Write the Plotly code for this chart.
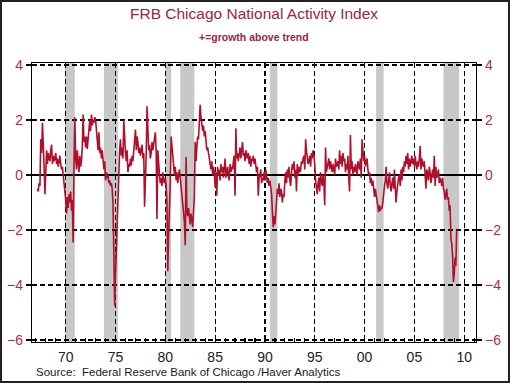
import pandas as pd
import plotly.graph_objects as go

# Monthly CFNAI values (Mar 1967 - Apr 2009)
cfnai_1960s = [
    -0.5, -0.6, -0.3, -0.4, 1.3, 0.8, 1.9, 0.6, 0.3, -0.7,            # 1967 Mar-Dec
    0.5, 0.9, 0.4, 0.8, 0.6, 0.5, 0.9, 1.1, 0.4, 0.7, 0.5, 0.6,        # 1968
    0.8, 0.4, 0.6, 0.3, 0.5, 0.7, 0.4, 0.2, 0.3, -0.1, -0.4, -0.6,     # 1969
]
cfnai_1970s = [
    -0.9, -1.4, -0.8, -1.2, -0.7, -1.0, -0.6, -1.3, -0.9, -2.45, 0.4, 2.1,   # 1970
    0.6, 0.2, 0.9, 0.4, 0.1, 0.7, 0.3, 0.5, 1.0, 2.2, 1.2, 1.4,             # 1971
    1.0, 1.4, 0.95, 1.3, 1.9, 2.0, 1.6, 2.2, 1.8, 2.0, 1.9, 2.1,            # 1972
    2.0, 1.5, 1.3, 0.9, 1.55, 0.8, 1.0, 0.6, 0.9, 0.4, 0.2, 0.5,            # 1973
    -0.2, 0.1, -0.1, 0.0, -0.3, -0.2, -0.4, -0.3, -0.5, -1.0, -2.9, -4.75,  # 1974
    -3.6, -2.6, -1.3, -0.4, 0.5, 0.9, 1.3, 0.7, 1.0, 0.6, 2.0, 1.1,         # 1975
    0.8, 0.5, 0.9, 0.1, 0.4, 0.3, 0.6, 0.35, 0.7, 0.5, 1.0, 1.3,            # 1976
    1.65, 0.9, 1.4, 1.2, 0.8, 1.0, 0.7, 0.9, 1.1, 0.6, 0.8, -1.15,          # 1977
    -0.2, 0.8, 2.5, 1.3, 0.9, 1.1, 0.6, 0.8, 1.2, 0.9, 1.1, 1.3,            # 1978
    1.55, 0.8, -1.6, 0.9, 0.2, 0.0, -0.3, -0.1, -0.4, 0.1, -0.2, -0.3,      # 1979
]
cfnai_1980s = [
    -0.1, -0.4, -1.0, -3.5, -2.1, -1.2, -0.3, 1.4, 1.0, 0.6, 0.2, 0.0,      # 1980
    0.3, -0.2, 0.1, -0.3, 0.0, 0.2, -0.1, -0.4, -0.7, -1.0, -1.4, -1.7,     # 1981
    -2.55, 0.65, -1.3, -1.5, -1.2, -1.6, -1.8, -1.4, -1.7, -1.9, -1.3, -0.8,  # 1982
    1.2, 0.5, 1.0, 1.4, 1.3, 1.8, 2.55, 2.1, 1.9, 1.6, 1.8, 1.4,            # 1983
    1.6, 1.2, 0.9, 1.0, 0.7, 0.6, 0.4, 0.2, 0.5, 0.0, 0.3, 0.1,             # 1984
    -0.45, 0.1, -0.75, 0.3, 0.0, 0.2, -0.2, 0.4, 0.1, 0.3, -0.1, 0.5,       # 1985
    0.6, -0.1, 0.2, 0.3, 0.0, -0.2, 0.4, 0.1, 0.3, 0.2, 0.5, 0.7,           # 1986
    -0.75, 1.7, 0.6, 0.8, 0.5, 0.7, 1.0, 0.6, 0.9, 1.2, 0.7, 0.8,           # 1987
    0.5, 0.9, 0.7, 0.6, 0.8, 0.4, 0.7, 0.3, 0.6, 0.5, 0.7, 0.4,             # 1988
    0.6, 0.2, 0.1, 0.3, -0.75, -0.1, 0.0, 0.2, -0.3, -0.1, -0.2, 0.1,       # 1989
]
cfnai_1990s = [
    -0.2, 0.2, -0.1, -0.3, -0.1, -0.4, -0.2, -0.4, -0.7, -1.3, -1.9, -1.5,  # 1990
    -1.8, -1.4, -0.9, -0.5, -0.7, -0.3, -0.8, -0.5, -0.6, -1.0, -0.7, -0.8, # 1991
    -0.2, 0.1, -0.3, 0.2, -0.1, 0.3, -0.2, -0.4, 0.1, 0.4, 0.2, 0.5,        # 1992
    -0.1, 0.2, -0.6, 0.4, 0.0, 0.3, 0.1, 0.2, 0.5, 0.4, 0.6, 0.7,           # 1993
    0.2, 1.3, 0.9, 0.6, 0.4, 0.5, 0.7, 0.3, 0.8, 0.6, 0.9, 0.7,             # 1994
    0.4, -0.2, -0.5, -0.7, -0.3, -0.1, -0.6, 0.1, -0.2, -0.4, 0.0, -0.3,    # 1995
    -1.1, 1.0, 0.1, 0.3, 0.4, 0.6, 0.2, 0.5, 0.3, 0.1, 0.4, 0.2,            # 1996
    0.0, 0.6, 0.3, 0.4, 0.5, 0.2, 0.9, 0.4, 0.7, 0.3, 0.8, 0.5,             # 1997
    0.6, 0.1, 0.4, 0.2, 0.7, -0.1, -0.6, 1.45, 0.2, 0.5, 0.0, 0.3,          # 1998
    0.1, 0.4, 0.2, 0.0, 0.5, 0.3, 0.2, 0.6, -0.1, 1.3, 0.6, 0.5,            # 1999
]
cfnai_2000s = [
    0.7, 0.3, 0.5, 0.6, 0.2, 0.0, 0.1, -0.3, -0.1, -0.4, -0.2, -0.6,        # 2000
    -0.8, -0.5, -0.7, -0.9, -1.0, -1.35, -1.1, -1.3, -1.2, -1.2, -1.0, -0.6,  # 2001
    -0.4, -0.2, 0.3, -0.3, -0.5, -0.2, 0.1, -0.4, -0.6, -0.3, -0.1, -0.5,   # 2002
    0.2, -0.5, -1.0, -0.6, -0.3, -0.1, 0.0, -0.4, 0.2, -0.2, 0.3, 0.1,      # 2003
    0.5, 0.3, 0.7, 0.4, 0.8, 0.2, 0.6, 0.3, 0.5, 0.7, 0.4, 0.6,             # 2004
    0.3, 0.7, 0.4, 0.2, 0.5, 0.3, 0.6, 1.05, 0.2, 0.6, 0.4, 0.3,            # 2005
    0.5, -0.1, -0.5, 0.2, 0.0, -0.2, 0.3, 0.1, -0.3, 0.0, 0.2, -0.1,        # 2006
    0.7, -0.4, 0.3, -0.1, 0.0, 0.2, -0.3, -0.1, -0.2, -0.4, -0.1, -0.5,     # 2007
    -0.6, -0.9, -0.7, -0.5, -0.9, -0.8, -1.3, -1.1, -2.3, -2.5, -2.9, -3.9, # 2008
    -3.6, -3.0, -3.3, -2.0,                                                  # 2009 Jan-Apr
]
series_start = "1967-03-01"

recession_starts = ["1969-12-01", "1973-11-01", "1980-01-01", "1981-07-01",
                    "1990-07-01", "2001-03-01", "2007-12-01"]
recession_ends = ["1970-11-30", "1975-03-31", "1980-07-31", "1982-11-30",
                  "1991-03-31", "2001-11-30", "2009-06-30"]

y_ticks = [-6, -4, -2, 0, 2, 4]

title_text = "FRB Chicago National Activity Index"
subtitle_text = "+=growth above trend"
source_text = "Source:&nbsp; Federal Reserve Bank of Chicago /Haver Analytics"

values = cfnai_1960s + cfnai_1970s + cfnai_1980s + cfnai_1990s + cfnai_2000s
dates = pd.date_range(series_start, periods=len(values), freq="MS")

LINE_RED = "#b0102c"
TITLE_RED = "#a0243a"
TICK_RED = "#bb2840"
FONT = "Arial, 'Liberation Sans', sans-serif"

W, H = 510, 383
L, R, T, B = 32, 34, 63, 41
PW, PH = W - L - R, H - T - B

def px_x(p):
    return (p - L) / PW

def px_y(p):
    return (H - B - p) / PH

fig = go.Figure()
fig.add_trace(go.Scatter(x=dates, y=values, mode="lines",
                         line=dict(color=LINE_RED, width=1.6),
                         hoverinfo="skip", showlegend=False))
fig.add_trace(go.Scatter(x=[dates[0]], y=[values[0]], mode="markers",
                         marker=dict(opacity=0), yaxis="y2",
                         hoverinfo="skip", showlegend=False))

recession_shapes = [
    dict(type="rect", xref="x", yref="paper", x0=s, x1=e, y0=0, y1=1,
         fillcolor="#c8c8c8", opacity=1, line=dict(width=0), layer="below")
    for s, e in zip(recession_starts, recession_ends)
]

yr = [-6.07, 4.07]
fig.update_layout(
    width=W, height=H,
    margin=dict(l=L, r=R, t=T, b=B, pad=0, autoexpand=False),
    paper_bgcolor="white", plot_bgcolor="rgba(0,0,0,0)",
    showlegend=False,
    font=dict(family=FONT),
    xaxis=dict(
        type="date", range=["1966-08-14", "2011-03-10"],
        tick0="1970-01-01", dtick="M60", tickformat="%y",
        showgrid=True, gridcolor="black", griddash="5px,3px", gridwidth=1.2,
        showline=True, linecolor="black", linewidth=1.2, mirror=True,
        ticks="inside", ticklen=6, tickcolor="black", tickwidth=1.2,
        minor=dict(dtick="M12", ticks="inside", ticklen=4,
                   tickcolor="black", tickwidth=1.2, showgrid=False),
        tickfont=dict(size=14, color="#222222", family=FONT),
        ticklabelstandoff=2,
        zeroline=False, automargin=False,
    ),
    yaxis=dict(
        range=yr, tickvals=y_ticks,
        showgrid=True, gridcolor="black", griddash="5px,3px", gridwidth=1.2,
        zeroline=True, zerolinecolor="black", zerolinewidth=1.2,
        showline=True, linecolor="black", linewidth=1.2, mirror=True,
        ticks="outside", ticklen=5, tickcolor="black", tickwidth=1.2,
        tickfont=dict(size=14, color=TICK_RED, family=FONT),
        automargin=False,
    ),
    yaxis2=dict(
        overlaying="y", side="right", range=yr, tickvals=y_ticks,
        showgrid=False, zeroline=False,
        showline=True, linecolor="black", linewidth=1.2,
        ticks="outside", ticklen=5, tickcolor="black", tickwidth=1.2,
        tickfont=dict(size=14, color=TICK_RED, family=FONT),
        automargin=False,
    ),
    annotations=[
        dict(text=title_text, xref="paper", yref="paper",
             x=px_x(254), y=px_y(13), xanchor="center", yanchor="middle",
             showarrow=False, font=dict(size=15.5, color=TITLE_RED, family=FONT)),
        dict(text="<b>" + subtitle_text + "</b>", xref="paper", yref="paper",
             x=px_x(254), y=px_y(37), xanchor="center", yanchor="middle",
             showarrow=False, font=dict(size=10.5, color=TITLE_RED, family=FONT)),
        dict(text=source_text, xref="paper", yref="paper",
             x=px_x(34), y=px_y(372), xanchor="left", yanchor="middle",
             showarrow=False, font=dict(size=11.5, color="#1a1a1a", family=FONT)),
    ],
    shapes=recession_shapes + [
        dict(type="rect", xref="paper", yref="paper",
             x0=px_x(1), x1=px_x(509), y0=px_y(382), y1=px_y(1),
             line=dict(color="#222222", width=2), fillcolor="rgba(0,0,0,0)",
             layer="above"),
    ],
)

fig.write_html("out.html",
               config={"displayModeBar": False, "staticPlot": True},
               post_script="document.body.style.margin='0px';document.body.style.overflow='hidden';")
